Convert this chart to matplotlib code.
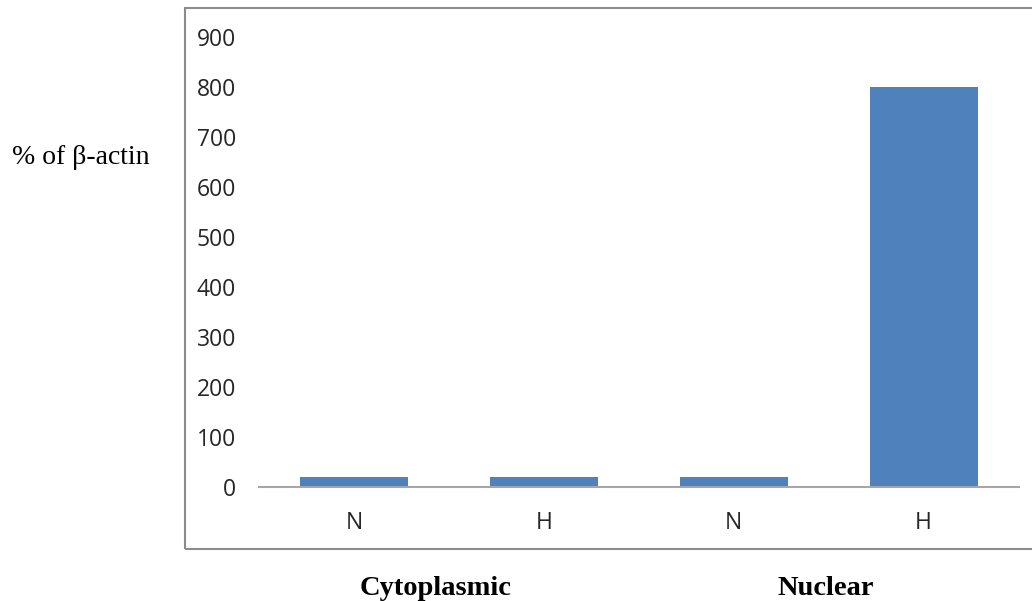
import numpy as np
import matplotlib.pyplot as plt
from matplotlib.patches import Rectangle

categories = ['N', 'H', 'N', 'H']
values = [20, 20, 20, 800]
groups = ['Cytoplasmic', 'Nuclear']
yticks = [0, 100, 200, 300, 400, 500, 600, 700, 800, 900]

fig = plt.figure(figsize=(10.32, 6.01), dpi=100)
ax = fig.add_axes([0.251, 0.1897, 0.736, 0.7487])

x = np.arange(len(values))
ax.bar(x, values, width=0.57, color='#4f81bd', zorder=2)
ax.set_xlim(-0.5, len(values) - 0.5)
ax.set_ylim(0, 900)
ax.set_yticks(yticks)
ax.set_xticks(x)
ax.set_xticklabels(categories)
ax.tick_params(length=0, labelsize=16.5, colors='#404040', labelcolor='#262626')
ax.tick_params(axis='y', pad=16.5)
ax.tick_params(axis='x', pad=17)
for lab in ax.get_xticklabels() + ax.get_yticklabels():
    lab.set_family('Open Sans')
for s in ['top', 'right', 'left']:
    ax.spines[s].set_visible(False)
ax.spines['bottom'].set_color('#a6a6a6')
ax.spines['bottom'].set_linewidth(1.5)

# outer chart frame
fig.patches.append(Rectangle((0.179, 0.0865), 0.9, 0.9002, transform=fig.transFigure,
                             fill=False, edgecolor='#8c8c8c', linewidth=1.5))

fig.text(0.0116, 0.738, '% of β-actin', family='Liberation Serif', fontsize=20,
         va='center', ha='left')
fig.text(0.4225, 0.021, groups[0], family='Liberation Serif', fontsize=20.5,
         fontweight='bold', ha='center', va='center')
fig.text(0.800, 0.021, groups[1], family='Liberation Serif', fontsize=20.5,
         fontweight='bold', ha='center', va='center')

fig.savefig('out.png', dpi=100)
